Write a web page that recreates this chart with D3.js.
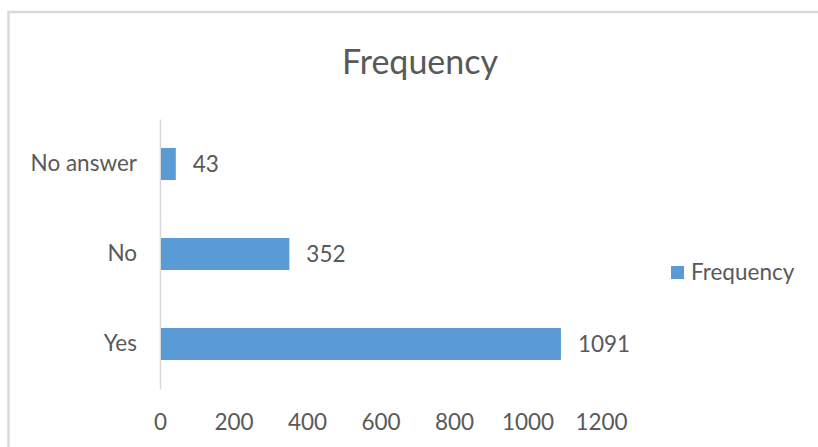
<!DOCTYPE html>
<html lang="en">
  <head>
    <meta charset="utf-8" />
    <title>Frequency</title>
    <script src="https://d3js.org/d3.v7.min.js"></script>
    <style>
      body { margin: 0; background: #fff; }
      svg text { font-family: Lato, "Open Sans", sans-serif; fill: #595959; }
    </style>
  </head>
  <body>
    <div id="chart"></div>
    <script>
      // data
      const categories = ["No answer", "No", "Yes"];
      const values = [43, 352, 1091];
      const xTicks = [0, 200, 400, 600, 800, 1000, 1200];
      const seriesName = "Frequency";

      const W = 818, H = 447;
      const plot = {left: 160, right: 601, top: 119, bottom: 389};
      const labelSize = "22.5px";

      const svg = d3.select("#chart")
        .append("svg")
          .attr("width", W)
          .attr("height", H);

      // chart border (runs off the right and bottom edge)
      svg.append("rect")
        .attr("x", 8.5)
        .attr("y", 12)
        .attr("width", 900)
        .attr("height", 600)
        .attr("fill", "none")
        .attr("stroke", "#d9d9d9")
        .attr("stroke-width", 2.5);

      // title
      svg.append("text")
        .attr("x", 420)
        .attr("y", 74)
        .attr("text-anchor", "middle")
        .style("font-size", "34px")
        .text(seriesName);

      const x = d3.scaleLinear()
        .domain([0, 1200])
        .range([plot.left, plot.right]);

      const y = d3.scaleBand()
        .domain(categories)
        .range([plot.top, plot.bottom])
        .paddingInner(0.644)
        .paddingOuter(0.322);

      // x axis: labels only
      const xAxis = svg.append("g")
        .attr("transform", `translate(0, ${plot.bottom})`)
        .call(d3.axisBottom(x).tickValues(xTicks).tickFormat(d3.format("d")).tickSize(0).tickPadding(25));
      xAxis.select(".domain").remove();
      xAxis.selectAll("text")
        .style("font-size", labelSize)
        .style("font-family", "Lato, 'Open Sans', sans-serif")
        .attr("fill", "#595959");

      // y axis line + category labels
      const yAxis = svg.append("g")
        .attr("transform", `translate(${plot.left}, 0)`)
        .call(d3.axisLeft(y).tickSize(0).tickPadding(23));
      yAxis.select(".domain")
        .attr("stroke", "#d9d9d9")
        .attr("stroke-width", 1.5);
      yAxis.selectAll("text")
        .style("font-size", labelSize)
        .style("font-family", "Lato, 'Open Sans', sans-serif")
        .attr("fill", "#595959");

      const rows = categories.map((c, i) => ({cat: c, val: values[i]}));

      // bars
      svg.append("g")
        .selectAll("rect")
        .data(rows)
        .join("rect")
          .attr("x", x(0) + 1)
          .attr("y", d => y(d.cat))
          .attr("width", d => x(d.val) - x(0) - 1)
          .attr("height", y.bandwidth())
          .attr("fill", "#5b9bd5");

      // value labels
      svg.append("g")
        .selectAll("text")
        .data(rows)
        .join("text")
          .attr("x", d => x(d.val) + 17)
          .attr("y", d => y(d.cat) + y.bandwidth() / 2)
          .attr("dy", "0.35em")
          .style("font-size", labelSize)
          .text(d => d.val);

      // legend
      const legend = svg.append("g")
        .attr("transform", "translate(671, 266)");
      legend.append("rect")
        .attr("width", 13)
        .attr("height", 13)
        .attr("fill", "#5b9bd5");
      legend.append("text")
        .attr("x", 20)
        .attr("y", 6.5)
        .attr("dy", "0.35em")
        .style("font-size", labelSize)
        .text(seriesName);
    </script>
  </body>
</html>
